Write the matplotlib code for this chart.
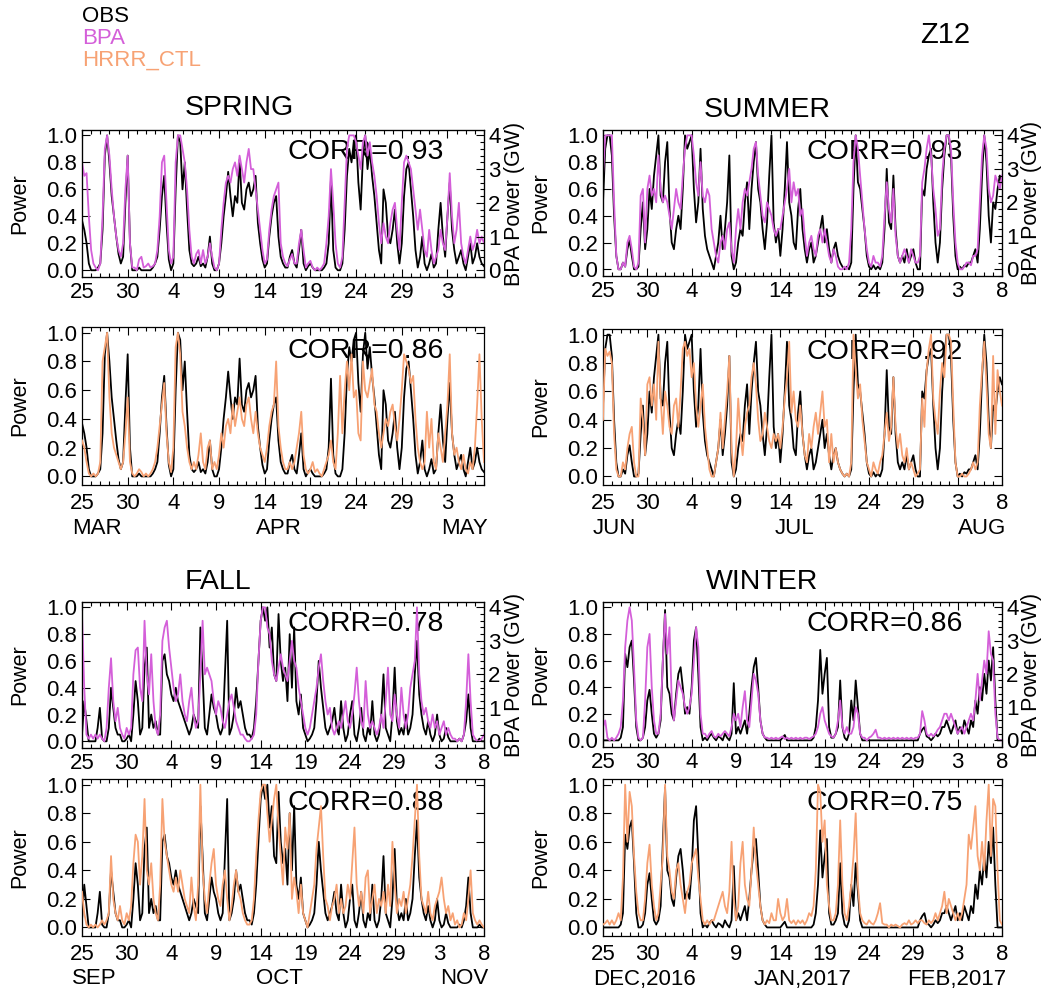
import numpy as np
import matplotlib
matplotlib.use('Agg')
import matplotlib.pyplot as plt
from matplotlib.ticker import MultipleLocator

plt.rcParams['font.family'] = ['Liberation Sans', 'DejaVu Sans']

# ---------------- data (normalized power, 6-hourly samples) ----------------
STEP = 0.25  # days between samples

spring_obs = [
 0.37,0.30,0.20,0.05, 0.00,0.00,0.00,0.02, 0.05,0.30,0.85,1.00, 0.80,0.55,0.40,0.25,
 0.12,0.05,0.10,0.50, 0.85,0.20,0.00,0.00, 0.00,0.02,0.00,0.00, 0.00,0.00,0.00,0.02,
 0.05,0.10,0.30,0.55, 0.70,0.35,0.08,0.00, 0.05,0.60,1.00,0.95, 0.60,0.80,0.45,0.15,
 0.05,0.03,0.05,0.10, 0.03,0.05,0.02,0.10, 0.25,0.05,0.00,0.00, 0.05,0.20,0.40,0.55,
 0.73,0.55,0.40,0.55, 0.50,0.82,0.50,0.45, 0.60,0.65,0.55,0.60, 0.70,0.35,0.20,0.08,
 0.02,0.05,0.25,0.40, 0.50,0.55,0.25,0.10, 0.05,0.02,0.02,0.10, 0.15,0.05,0.02,0.15,
 0.30,0.05,0.00,0.03, 0.05,0.02,0.00,0.00, 0.00,0.00,0.02,0.05, 0.20,0.68,0.15,0.02,
 0.00,0.00,0.05,0.30, 0.70,0.90,0.80,0.95, 1.00,0.65,0.45,0.85, 1.00,0.75,0.90,0.70,
 0.55,0.35,0.15,0.05, 0.60,0.50,0.25,0.20, 0.30,0.45,0.20,0.05, 0.20,0.55,0.75,0.80,
 0.60,0.40,0.15,0.02, 0.10,0.25,0.05,0.00, 0.05,0.12,0.02,0.05, 0.30,0.50,0.25,0.10,
 0.40,0.65,0.30,0.15, 0.05,0.10,0.15,0.05, 0.00,0.10,0.20,0.05, 0.10,0.20,0.10,0.05,
 0.03]
spring_bpa = [
 0.80,0.70,0.72,0.40, 0.15,0.05,0.02,0.00, 0.05,0.40,0.90,1.00, 0.85,0.60,0.40,0.25,
 0.15,0.10,0.20,0.60, 0.85,0.20,0.02,0.02, 0.00,0.08,0.10,0.02, 0.03,0.05,0.02,0.03,
 0.05,0.15,0.40,0.80, 0.85,0.50,0.15,0.05, 0.10,0.80,1.00,1.00, 0.90,0.80,0.60,0.30,
 0.10,0.05,0.12,0.15, 0.05,0.15,0.05,0.10, 0.20,0.10,0.02,0.00, 0.05,0.30,0.50,0.65,
 0.70,0.65,0.75,0.80, 0.70,0.85,0.75,0.65, 0.80,0.90,0.75,0.75, 0.60,0.45,0.30,0.15,
 0.05,0.08,0.30,0.45, 0.55,0.60,0.65,0.20, 0.10,0.05,0.03,0.08, 0.12,0.05,0.05,0.20,
 0.30,0.15,0.02,0.05, 0.07,0.02,0.00,0.02, 0.00,0.02,0.05,0.20, 0.40,0.75,0.50,0.20,
 0.05,0.02,0.10,0.50, 0.90,1.00,1.00,1.00, 0.95,0.85,0.75,0.95, 1.00,0.85,0.95,0.80,
 0.70,0.55,0.35,0.20, 0.35,0.25,0.20,0.35, 0.45,0.50,0.30,0.15, 0.50,0.80,0.85,0.80,
 0.75,0.60,0.45,0.30, 0.45,0.30,0.15,0.10, 0.30,0.15,0.05,0.10, 0.15,0.30,0.20,0.15,
 0.40,0.72,0.40,0.20, 0.30,0.50,0.20,0.10, 0.05,0.15,0.25,0.15, 0.20,0.30,0.20,0.25,
 0.20]
spring_hrrr = [
 0.25,0.20,0.10,0.02, 0.00,0.02,0.00,0.02, 0.10,0.80,0.90,1.00, 0.55,0.30,0.20,0.15,
 0.10,0.05,0.10,0.30, 0.55,0.10,0.02,0.00, 0.02,0.05,0.03,0.00, 0.02,0.00,0.02,0.05,
 0.10,0.20,0.35,0.50, 0.65,0.30,0.10,0.03, 0.20,0.90,1.00,0.85, 0.45,0.35,0.20,0.10,
 0.05,0.10,0.05,0.15, 0.30,0.10,0.05,0.20, 0.25,0.05,0.10,0.05, 0.15,0.30,0.20,0.35,
 0.40,0.30,0.50,0.35, 0.45,0.55,0.40,0.35, 0.50,0.55,0.40,0.30, 0.45,0.30,0.20,0.15,
 0.10,0.20,0.35,0.45, 0.50,0.80,0.35,0.20, 0.10,0.05,0.05,0.10, 0.05,0.10,0.20,0.30,
 0.45,0.15,0.05,0.02, 0.05,0.10,0.03,0.05, 0.02,0.00,0.05,0.10, 0.15,0.25,0.10,0.05,
 0.30,0.70,0.30,0.60, 0.80,0.60,0.85,0.55, 0.60,0.30,0.25,0.80, 0.60,0.55,0.65,0.75,
 0.50,0.45,0.30,0.20, 0.30,0.40,0.35,0.45, 0.50,0.35,0.25,0.40, 0.60,0.85,0.80,0.75,
 0.65,0.70,0.40,0.20, 0.10,0.05,0.10,0.45, 0.20,0.40,0.10,0.05, 0.30,0.20,0.10,0.30,
 0.50,0.85,0.30,0.15, 0.20,0.10,0.05,0.15, 0.05,0.02,0.10,0.05, 0.20,0.50,0.85,0.40,
 0.10]

summer_obs = [
 0.50,0.90,1.00,1.00, 0.85,0.40,0.10,0.00, 0.00,0.05,0.02,0.15, 0.22,0.10,0.00,0.00,
 0.02,0.30,0.50,0.15, 0.30,0.60,0.45,0.70, 0.85,1.00,0.55,0.50, 0.80,0.95,0.45,0.20,
 0.15,0.30,0.40,0.30, 0.60,1.00,0.90,0.95, 1.00,0.60,0.35,0.50, 0.90,0.45,0.25,0.15,
 0.10,0.05,0.00,0.10, 0.20,0.40,0.15,0.30, 0.50,0.85,0.10,0.00, 0.05,0.20,0.30,0.25,
 0.50,0.65,0.30,0.60, 0.80,0.95,0.60,0.50, 0.30,0.15,0.35,0.70, 1.00,0.35,0.20,0.30,
 0.10,0.30,0.60,0.95, 0.50,0.40,0.20,0.15, 0.45,0.60,0.30,0.15, 0.05,0.15,0.20,0.05,
 0.10,0.20,0.30,0.40, 0.20,0.30,0.15,0.05, 0.15,0.20,0.10,0.05, 0.02,0.00,0.02,0.00,
 0.05,0.60,1.00,0.65, 0.60,0.45,0.30,0.10, 0.02,0.00,0.03,0.00, 0.02,0.00,0.05,0.30,
 0.75,0.35,0.30,0.70, 0.30,0.10,0.05,0.10, 0.05,0.15,0.05,0.10, 0.15,0.05,0.00,0.00,
 0.60,0.55,0.75,0.85, 0.90,0.50,0.20,0.05, 0.20,0.60,0.85,1.00, 1.00,0.85,0.40,0.10,
 0.00,0.02,0.00,0.03, 0.02,0.05,0.05,0.10, 0.15,0.05,0.30,0.70, 1.00,0.80,0.40,0.20,
 0.50,0.45,0.60,0.70, 0.65]
summer_bpa = [
 0.70,1.00,1.00,1.00, 1.00,0.50,0.10,0.00, 0.00,0.05,0.02,0.20, 0.25,0.15,0.02,0.00,
 0.05,0.55,0.60,0.20, 0.60,0.70,0.55,0.60, 0.50,0.85,0.60,0.50, 0.55,0.50,0.40,0.30,
 0.45,0.60,0.50,0.45, 0.70,0.90,1.00,1.00, 1.00,0.85,0.65,0.55, 0.80,0.55,0.50,0.60,
 0.55,0.30,0.20,0.10, 0.05,0.20,0.25,0.15, 0.30,0.35,0.15,0.05, 0.30,0.45,0.30,0.50,
 0.60,0.55,0.65,0.75, 0.90,0.95,0.70,0.55, 0.40,0.35,0.50,0.45, 0.40,0.30,0.25,0.30,
 0.30,0.40,0.50,0.60, 0.75,0.50,0.65,0.55, 0.60,0.40,0.45,0.25, 0.10,0.20,0.25,0.15,
 0.10,0.25,0.30,0.20, 0.30,0.20,0.10,0.05, 0.15,0.10,0.02,0.00, 0.00,0.02,0.00,0.05,
 0.30,0.80,1.00,0.90, 0.70,0.50,0.30,0.15, 0.05,0.02,0.10,0.05, 0.05,0.02,0.10,0.40,
 0.65,0.45,0.35,0.60, 0.25,0.10,0.05,0.10, 0.15,0.10,0.05,0.15, 0.10,0.05,0.05,0.10,
 0.65,0.75,0.90,1.00, 0.85,0.60,0.45,0.25, 0.30,0.70,0.90,1.00, 1.00,0.90,0.50,0.20,
 0.05,0.00,0.00,0.02, 0.05,0.05,0.03,0.10, 0.10,0.15,0.50,0.85, 1.00,0.90,0.60,0.50,
 0.55,0.70,0.65,0.60, 0.70]
summer_hrrr = [
 0.40,0.90,0.85,0.88, 0.80,0.30,0.05,0.00, 0.00,0.10,0.05,0.20, 0.30,0.35,0.10,0.00,
 0.00,0.55,0.40,0.15, 0.65,0.70,0.50,0.65, 0.40,0.95,0.55,0.30, 0.60,0.50,0.35,0.30,
 0.50,0.55,0.35,0.60, 0.90,0.95,0.85,0.90, 0.70,0.80,0.50,0.35, 0.50,0.65,0.35,0.20,
 0.05,0.00,0.00,0.10, 0.20,0.45,0.20,0.40, 0.60,0.85,0.20,0.00, 0.20,0.55,0.30,0.15,
 0.35,0.45,0.50,0.70, 0.80,0.65,0.40,0.25, 0.30,0.45,0.35,0.25, 0.20,0.30,0.25,0.30,
 0.20,0.35,0.55,0.70, 0.95,0.45,0.60,0.40, 0.35,0.50,0.30,0.15, 0.10,0.30,0.20,0.35,
 0.45,0.30,0.45,0.60, 0.35,0.40,0.10,0.30, 0.10,0.20,0.10,0.05, 0.02,0.00,0.02,0.00,
 0.10,1.00,0.75,0.55, 0.65,0.40,0.25,0.10, 0.05,0.00,0.10,0.05, 0.02,0.10,0.15,0.30,
 0.45,0.25,0.35,0.70, 0.35,0.20,0.30,0.15, 0.10,0.20,0.05,0.10, 0.05,0.00,0.02,0.05,
 0.55,0.35,0.75,0.90, 1.00,0.55,0.40,0.30, 0.60,0.80,0.70,1.00, 1.00,0.95,0.50,0.10,
 0.00,0.00,0.02,0.00, 0.00,0.02,0.05,0.10, 0.05,0.10,0.50,0.75, 0.95,0.65,0.30,0.20,
 0.85,0.30,0.75,0.60, 0.50]

fall_obs = [
 0.05,0.30,0.15,0.00, 0.00,0.00,0.00,0.10, 0.25,0.02,0.00,0.00, 0.10,0.40,0.25,0.10,
 0.05,0.05,0.00,0.00, 0.02,0.05,0.00,0.20, 0.45,0.30,0.05,0.10, 0.55,0.70,0.10,0.20,
 0.10,0.15,0.05,0.05, 0.60,0.65,0.50,0.45, 0.35,0.30,0.40,0.30, 0.25,0.20,0.15,0.10,
 0.05,0.10,0.20,0.15, 0.10,0.85,0.50,0.10, 0.05,0.20,0.35,0.25, 0.20,0.10,0.05,0.10,
 0.50,0.90,0.05,0.10, 0.20,0.40,0.25,0.30, 0.20,0.10,0.05,0.05, 0.02,0.10,0.30,0.60,
 0.90,1.00,0.90,1.00, 0.70,0.85,0.50,0.45, 0.95,0.60,0.45,0.55, 0.30,0.80,0.40,0.85,
 0.30,0.20,0.35,0.10, 0.05,0.00,0.02,0.05, 0.10,0.30,0.60,0.40, 0.25,0.10,0.05,0.10,
 0.15,0.25,0.10,0.05, 0.30,0.10,0.00,0.05, 0.20,0.30,0.05,0.00, 0.10,0.25,0.05,0.00,
 0.10,0.05,0.30,0.05, 0.00,0.05,0.20,0.50, 0.10,0.05,0.00,0.20, 0.55,0.15,0.05,0.10,
 0.05,0.20,0.05,0.10, 0.20,0.50,0.75,0.35, 0.20,0.10,0.05,0.15, 0.05,0.00,0.05,0.20,
 0.05,0.00,0.02,0.10, 0.03,0.00,0.00,0.00, 0.00,0.02,0.00,0.05, 0.15,0.35,0.10,0.00,
 0.00,0.00,0.02,0.00, 0.00]
fall_bpa = [
 0.95,0.40,0.05,0.02, 0.05,0.02,0.05,0.02, 0.05,0.02,0.00,0.10, 0.40,0.62,0.30,0.15,
 0.25,0.10,0.05,0.02, 0.10,0.05,0.10,0.50, 0.68,0.70,0.40,0.30, 0.90,0.50,0.35,0.65,
 0.30,0.10,0.05,0.20, 0.75,0.85,0.90,0.70, 0.55,0.40,0.30,0.35, 0.50,0.30,0.20,0.15,
 0.30,0.40,0.20,0.10, 0.15,0.50,0.90,0.50, 0.55,0.50,0.45,0.30, 0.20,0.30,0.25,0.15,
 0.10,0.20,0.30,0.35, 0.25,0.15,0.10,0.05, 0.05,0.02,0.00,0.00, 0.02,0.05,0.20,0.60,
 0.90,1.00,1.00,0.85, 0.80,0.60,0.50,0.45, 0.55,0.65,0.55,0.50, 0.45,0.60,0.75,0.60,
 0.55,0.40,0.30,0.20, 0.10,0.05,0.10,0.20, 0.30,0.40,0.55,0.65, 0.45,0.30,0.20,0.25,
 0.10,0.05,0.10,0.15, 0.10,0.20,0.30,0.15, 0.10,0.20,0.35,0.55, 0.30,0.15,0.10,0.45,
 0.20,0.10,0.15,0.10, 0.05,0.10,0.20,0.10, 0.30,0.55,0.20,0.15, 0.35,0.20,0.10,0.40,
 0.20,0.10,0.20,0.40, 0.50,0.60,1.00,0.50, 0.30,0.20,0.25,0.15, 0.10,0.20,0.10,0.15,
 0.05,0.10,0.15,0.05, 0.10,0.05,0.02,0.02, 0.00,0.02,0.00,0.05, 0.30,0.65,0.30,0.05,
 0.02,0.00,0.00,0.02, 0.05]
fall_hrrr = [
 0.25,0.10,0.02,0.00, 0.02,0.00,0.02,0.00, 0.02,0.05,0.02,0.05, 0.10,0.50,0.20,0.10,
 0.05,0.15,0.05,0.02, 0.10,0.05,0.15,0.45, 0.65,0.60,0.30,0.50, 0.90,0.40,0.30,0.45,
 0.20,0.10,0.05,0.30, 0.90,0.60,0.50,0.40, 0.30,0.25,0.35,0.25, 0.40,0.30,0.20,0.15,
 0.10,0.35,0.15,0.05, 0.30,1.00,0.40,0.20, 0.10,0.30,0.45,0.55, 0.30,0.20,0.15,0.30,
 0.40,0.20,0.05,0.15, 0.30,0.40,0.25,0.20, 0.10,0.05,0.02,0.02, 0.05,0.20,0.50,0.75,
 0.95,1.00,1.00,0.80, 0.60,0.75,0.90,1.00, 0.70,0.50,0.30,0.70, 0.55,0.80,0.20,0.35,
 0.25,0.10,0.30,0.10, 0.05,0.00,0.10,0.20, 0.30,0.55,0.70,0.85, 0.50,0.20,0.15,0.05,
 0.15,0.20,0.30,0.10, 0.20,0.10,0.15,0.30, 0.20,0.45,0.70,0.30, 0.15,0.25,0.10,0.35,
 0.40,0.10,0.20,0.30, 0.10,0.20,0.15,0.25, 0.10,0.30,0.15,0.60, 0.30,0.10,0.20,0.15,
 0.25,0.10,0.20,0.30, 0.50,0.75,1.00,0.50, 0.20,0.15,0.10,0.25, 0.10,0.05,0.15,0.20,
 0.25,0.35,0.20,0.10, 0.15,0.05,0.10,0.02, 0.05,0.00,0.02,0.10, 0.05,0.20,0.40,0.10,
 0.05,0.02,0.05,0.02, 0.00]

winter_obs = [
 0.00,0.00,0.00,0.00, 0.00,0.00,0.00,0.00, 0.02,0.10,0.65,0.55, 0.70,0.75,0.45,0.10,
 0.00,0.00,0.02,0.10, 0.30,0.38,0.20,0.05, 0.02,0.05,0.15,0.60, 0.98,0.40,0.35,0.20,
 0.15,0.35,0.50,0.55, 0.40,0.20,0.25,0.20, 0.40,0.75,0.85,0.50, 0.10,0.00,0.02,0.00,
 0.03,0.05,0.02,0.00, 0.03,0.02,0.00,0.05, 0.02,0.00,0.05,0.43, 0.05,0.10,0.05,0.10,
 0.15,0.05,0.20,0.40, 0.55,0.62,0.40,0.15, 0.05,0.02,0.00,0.00, 0.00,0.00,0.00,0.00,
 0.00,0.02,0.04,0.00, 0.00,0.00,0.00,0.00, 0.00,0.00,0.00,0.00, 0.00,0.00,0.00,0.02,
 0.10,0.30,0.68,0.35, 0.50,0.62,0.10,0.02, 0.02,0.05,0.10,0.45, 0.10,0.02,0.00,0.05,
 0.30,0.15,0.45,0.25, 0.05,0.00,0.00,0.00, 0.00,0.00,0.00,0.00, 0.00,0.00,0.00,0.00,
 0.00,0.00,0.00,0.00, 0.00,0.00,0.00,0.00, 0.00,0.00,0.00,0.00, 0.00,0.00,0.00,0.05,
 0.08,0.10,0.03,0.02, 0.00,0.02,0.05,0.03, 0.05,0.10,0.10,0.15, 0.10,0.05,0.10,0.15,
 0.05,0.10,0.05,0.15, 0.10,0.05,0.15,0.10, 0.30,0.20,0.40,0.30, 0.50,0.35,0.60,0.45,
 0.70,0.30,0.00,0.00, 0.00]
winter_bpa = [
 0.10,0.15,0.02,0.00, 0.02,0.00,0.02,0.05, 0.10,0.30,0.70,0.90, 1.00,0.90,0.55,0.15,
 0.02,0.00,0.02,0.30, 0.70,0.80,0.40,0.15, 0.05,0.05,0.20,0.60, 0.95,0.65,0.85,0.30,
 0.15,0.30,0.45,0.40, 0.35,0.25,0.20,0.25, 0.35,0.60,0.85,0.70, 0.20,0.05,0.05,0.02,
 0.05,0.07,0.03,0.02, 0.05,0.03,0.05,0.07, 0.05,0.03,0.10,0.20, 0.15,0.20,0.10,0.25,
 0.37,0.15,0.10,0.30, 0.50,0.45,0.35,0.15, 0.05,0.02,0.02,0.01, 0.02,0.01,0.02,0.01,
 0.02,0.03,0.01,0.02, 0.01,0.02,0.01,0.02, 0.01,0.02,0.01,0.02, 0.02,0.01,0.02,0.03,
 0.05,0.10,0.20,0.25, 0.15,0.10,0.05,0.03, 0.02,0.05,0.15,0.30, 0.10,0.05,0.10,0.05,
 0.05,0.10,0.25,0.20, 0.05,0.02,0.02,0.00, 0.02,0.03,0.05,0.08, 0.02,0.02,0.01,0.02,
 0.01,0.02,0.01,0.02, 0.01,0.02,0.01,0.02, 0.01,0.02,0.01,0.02, 0.01,0.02,0.02,0.05,
 0.22,0.15,0.05,0.03, 0.05,0.03,0.05,0.08, 0.10,0.15,0.20,0.20, 0.15,0.20,0.15,0.10,
 0.05,0.08,0.10,0.05, 0.10,0.15,0.20,0.15, 0.30,0.50,0.30,0.45, 0.60,0.50,0.82,0.65,
 0.60,0.20,0.02,0.00, 0.00]
winter_hrrr = [
 0.02,0.03,0.05,0.02, 0.05,0.02,0.05,0.10, 0.05,0.35,1.00,0.60, 0.95,0.85,0.50,0.25,
 0.10,0.05,0.05,0.20, 0.45,0.58,0.30,0.15, 0.05,0.10,0.30,0.50, 1.00,0.50,0.40,0.25,
 0.20,0.40,0.45,0.30, 0.20,0.10,0.25,0.30, 0.45,0.50,0.55,0.35, 0.20,0.05,0.02,0.05,
 0.02,0.05,0.05,0.10, 0.15,0.20,0.25,0.15, 0.10,0.25,0.60,0.20, 0.05,0.15,0.45,0.60,
 0.30,0.20,0.15,0.40, 0.70,0.45,0.30,0.15, 0.05,0.02,0.05,0.03, 0.10,0.05,0.05,0.20,
 0.10,0.05,0.08,0.20, 0.05,0.03,0.05,0.02, 0.05,0.03,0.05,0.02, 0.05,0.10,0.08,0.15,
 0.40,1.00,0.95,0.60, 0.75,0.30,0.15,0.05, 0.05,0.10,0.30,0.75, 0.30,0.10,0.05,0.15,
 0.30,0.50,0.80,0.30, 0.10,0.05,0.03,0.02, 0.05,0.03,0.02,0.05, 0.10,0.17,0.03,0.02,
 0.02,0.00,0.02,0.01, 0.02,0.01,0.00,0.02, 0.03,0.02,0.05,0.02, 0.03,0.05,0.03,0.05,
 0.05,0.03,0.02,0.05, 0.03,0.05,0.10,0.05, 0.10,0.15,0.25,0.10, 0.20,0.15,0.10,0.05,
 0.10,0.05,0.10,0.20, 0.30,0.65,0.55,0.70, 0.85,0.50,0.40,0.60, 0.40,0.75,1.00,0.50,
 0.90,0.85,0.40,0.05, 0.02]

corr_values = {'SPRING': (0.93, 0.86), 'SUMMER': (0.93, 0.92),
               'FALL': (0.78, 0.88), 'WINTER': (0.86, 0.75)}

day_labels_spring = ['25', '30', '4', '9', '14', '19', '24', '29', '3']
day_labels_other = ['25', '30', '4', '9', '14', '19', '24', '29', '3', '8']
months_spring = ['MAR', 'APR', 'MAY']
months_summer = ['JUN', 'JUL', 'AUG']
months_fall = ['SEP', 'OCT', 'NOV']
months_winter = ['DEC,2016', 'JAN,2017', 'FEB,2017']

legend_names = ['OBS', 'BPA', 'HRRR_CTL']

# ---------------- styling ----------------
C_OBS = 'black'
C_BPA = '#D45FD9'
C_HRRR = '#F7A274'
LW = 1.3
TICK_FS = 16
LABEL_FS = 15.5
BIG_FS = 20.5

W, H = 1057, 992
fig = plt.figure(figsize=(W / 100, H / 100), dpi=100)


def px_axes(x0, y0, x1, y1):
    return fig.add_axes([x0 / W, 1 - y1 / H, (x1 - x0) / W, (y1 - y0) / H])


def style(ax, xmax, labels, ylim, right_ticks, pad):
    ax.set_xlim(0, xmax)
    ax.set_ylim(*ylim)
    ax.set_xticks(np.arange(len(labels)) * 5)
    ax.set_xticklabels(labels)
    ax.xaxis.set_minor_locator(MultipleLocator(1))
    yt = np.arange(0, 1.01, 0.2)
    ax.set_yticks(yt)
    ax.set_yticklabels(['%.1f' % v for v in yt])
    ax.tick_params(which='both', direction='in', top=True, right=right_ticks,
                   labelsize=TICK_FS, width=0.8)
    ax.tick_params(axis='x', which='major', length=6, pad=pad)
    ax.tick_params(axis='x', which='minor', length=3)
    ax.tick_params(axis='y', which='major', length=6, pad=3.5)
    for s in ax.spines.values():
        s.set_linewidth(0.9)


seasons = [
    dict(name='SPRING', obs=spring_obs, top=spring_bpa, bot=spring_hrrr,
         xmax=44, labels=day_labels_spring, months=months_spring,
         x0=82, x1=484, ytop=(130, 277), ybot=(327, 485),
         title_xy=(239, 108), mid=0.49),
    dict(name='SUMMER', obs=summer_obs, top=summer_bpa, bot=summer_hrrr,
         xmax=45, labels=day_labels_other, months=months_summer,
         x0=603, x1=1002, ytop=(130, 276), ybot=(329, 485),
         title_xy=(767, 110), mid=0.48),
    dict(name='FALL', obs=fall_obs, top=fall_bpa, bot=fall_hrrr,
         xmax=45, labels=day_labels_other, months=months_fall,
         x0=82, x1=484, ytop=(602, 748), ybot=(779, 936),
         title_xy=(218, 582), mid=0.49),
    dict(name='WINTER', obs=winter_obs, top=winter_bpa, bot=winter_hrrr,
         xmax=45, labels=day_labels_other, months=months_winter,
         x0=603, x1=1002, ytop=(602, 747), ybot=(779, 936),
         title_xy=(762, 582), mid=0.50),
]

for s in seasons:
    x = np.arange(len(s['obs'])) * STEP
    c_top, c_bot = corr_values[s['name']]

    # ---- top panel: OBS vs BPA ----
    ax = px_axes(s['x0'], s['ytop'][0], s['x1'], s['ytop'][1])
    ax.plot(x, s['obs'], color=C_OBS, lw=LW, zorder=2)
    ax.plot(x, s['top'], color=C_BPA, lw=LW, zorder=3)
    ylim_t = (-0.05, 1.04)
    style(ax, s['xmax'], s['labels'], ylim_t, False, 3.5)
    ax.text(0.51, 0.85, 'CORR=%.2f' % c_top, transform=ax.transAxes,
            fontsize=BIG_FS, va='center', ha='left', zorder=1)
    ax.text(-62 / (s['x1'] - s['x0']), 0.5, 'Power', transform=ax.transAxes,
            rotation=90, ha='center', va='center', fontsize=LABEL_FS)
    ax2 = ax.twinx()
    ax2.set_ylim(ylim_t[0] * 4, ylim_t[1] * 4)
    ax2.set_yticks([0, 1, 2, 3, 4])
    ax2.set_yticklabels(['0', '1', '2', '3', '4'])
    ax2.yaxis.set_minor_locator(MultipleLocator(0.2))
    ax2.tick_params(axis='y', which='both', direction='in', labelsize=TICK_FS,
                    pad=3, width=0.8)
    ax2.tick_params(axis='y', which='major', length=6)
    ax2.tick_params(axis='y', which='minor', length=3)
    ax2.text(1 + 30 / (s['x1'] - s['x0']), 0.5, 'BPA Power (GW)',
             transform=ax.transAxes, rotation=90, ha='center', va='center',
             fontsize=LABEL_FS)

    # ---- bottom panel: OBS vs HRRR ----
    axb = px_axes(s['x0'], s['ybot'][0], s['x1'], s['ybot'][1])
    axb.plot(x, s['obs'], color=C_OBS, lw=LW, zorder=2)
    axb.plot(x, s['bot'], color=C_HRRR, lw=LW, zorder=3)
    style(axb, s['xmax'], s['labels'], (-0.06, 1.04), True, 6)
    axb.text(0.51, 0.85, 'CORR=%.2f' % c_bot, transform=axb.transAxes,
             fontsize=BIG_FS, va='center', ha='left', zorder=1)
    axb.text(-62 / (s['x1'] - s['x0']), 0.5, 'Power', transform=axb.transAxes,
             rotation=90, ha='center', va='center', fontsize=LABEL_FS)
    hb = s['ybot'][1] - s['ybot'][0]
    ym = -43 / hb
    m0, m1, m2 = s['months']
    axb.text(-0.025, ym, m0, transform=axb.transAxes, ha='left', va='center',
             fontsize=LABEL_FS + 0.5)
    axb.text(s['mid'], ym, m1, transform=axb.transAxes, ha='center',
             va='center', fontsize=LABEL_FS + 0.5)
    axb.text(1.01, ym, m2, transform=axb.transAxes, ha='right', va='center',
             fontsize=LABEL_FS + 0.5)

    tx, ty = s['title_xy']
    fig.text(tx / W, 1 - ty / H, s['name'], ha='center', va='center',
             fontsize=BIG_FS)

# legend text and panel tag
for i, (name, col) in enumerate(zip(legend_names, [C_OBS, C_BPA, C_HRRR])):
    fig.text(82 / W, 1 - (17 + 21.5 * i) / H, name, color=col, ha='left',
             va='center', fontsize=16)
fig.text(945 / W, 1 - 35 / H, 'Z12', ha='center', va='center', fontsize=21)

fig.savefig('out.png', dpi=100)
